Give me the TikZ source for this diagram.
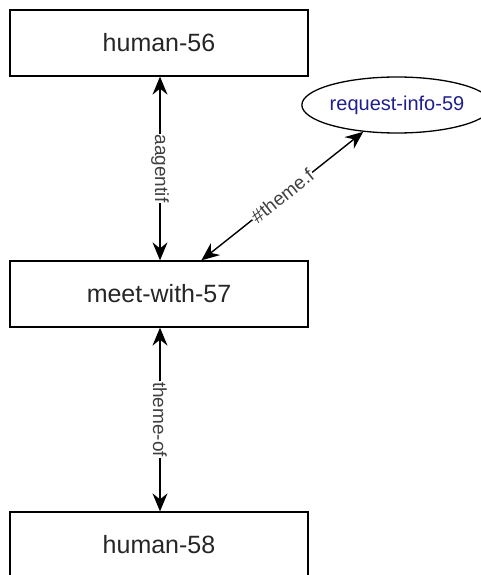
\documentclass[tikz,border=0pt]{standalone}
\usepackage{fontspec}
\setmainfont{Liberation Sans}
\usetikzlibrary{arrows.meta,shapes.geometric}
\begin{document}
\begin{tikzpicture}[x=1pt,y=-1pt,
  box/.style={draw, line width=1.3pt, minimum width=298pt, minimum height=66pt, inner sep=0pt, font=\fontsize{25}{30}\selectfont, text=black!85},
  oval/.style={draw, ellipse, line width=1.3pt, minimum width=163pt, minimum height=56pt, inner sep=0pt, text={rgb,255:red,30;green,30;blue,140}, font=\fontsize{20}{24}\selectfont},
  tipx/.tip={Stealth[length=18pt,width=15pt,inset=6pt]},
  link/.style={line width=1.4pt, tipx-tipx},
  lab/.style={fill=white, inner sep=1pt, font=\fontsize{19}{22}\selectfont, text=black!75}]
\useasboundingbox (0,0) rectangle (480,575);
\node[box] (h56) at (159,43) {human-56};
\node[box] (m57) at (159,294) {meet-with-57};
\node[box] (h58) at (159,545) {human-58};
\node[oval] (r59) at (397,105) {request-info-59};
\draw[link] ([xshift=1pt]h56.south) -- node[lab, rotate=-90] {aagentif} ([xshift=1pt]m57.north);
\draw[link] ([xshift=1pt]m57.south) -- node[lab, rotate=-90] {theme-of} ([xshift=1pt]h58.north);
\draw[link] (m57) -- node[lab, sloped] {\#theme.f} (r59);
\end{tikzpicture}
\end{document}
